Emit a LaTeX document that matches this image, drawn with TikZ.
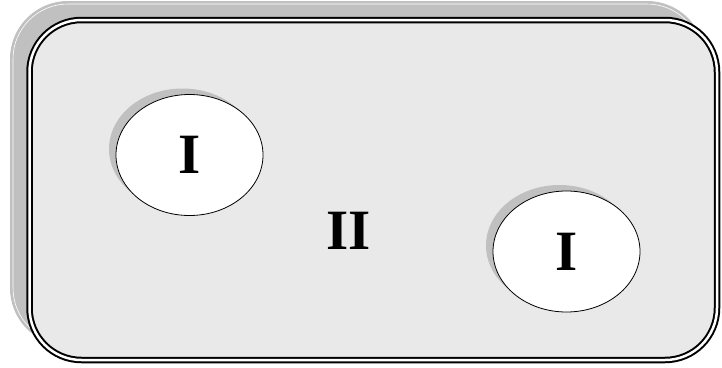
\documentclass[tikz,border=0pt]{standalone}
\usepackage{fontspec}
\setmainfont{Liberation Serif}
\usetikzlibrary{shapes.geometric}
\begin{document}
\begin{tikzpicture}[x=1pt,y=-1pt,
  frame/.style={draw=black, fill=panelgrey, line width=2pt, double=white, double distance=2.5pt, rounded corners=52pt},
  frameshadow/.style={fill=shadowgrey, rounded corners=58pt},
  region/.style={ellipse, draw=black, line width=0.8pt, fill=white, minimum width=147pt, minimum height=121pt, inner sep=0pt, font=\fontsize{57}{57}\selectfont\bfseries},
  regionshadow/.style={ellipse, fill=shadowgrey, minimum width=147pt, minimum height=121pt, inner sep=0pt},
  label/.style={font=\fontsize{57}{57}\selectfont\bfseries}]
\definecolor{panelgrey}{HTML}{E9E9E9}
\definecolor{shadowgrey}{HTML}{C0C0C0}
\useasboundingbox (0,0) rectangle (722,367);
% shadow of the outer panel, with its thin highlight
\fill[frameshadow] (10,1) rectangle (705,346);
\draw[white, line width=0.6pt, rounded corners=55pt] (13,4) rectangle (702,343);
% outer panel with double border
\draw[frame] (29.5,20) rectangle (717,360);
% inner regions with shadows
\node[regionshadow] (s1) at (182.5,149) {};
\node[regionshadow] (s2) at (559.5,245.5) {};
\node[region] (r1) at (189.5,155) {I};
\node[region] (r2) at (566.5,251.5) {I};
\node[label] (outer) at (348.5,231) {II};
\end{tikzpicture}
\end{document}
